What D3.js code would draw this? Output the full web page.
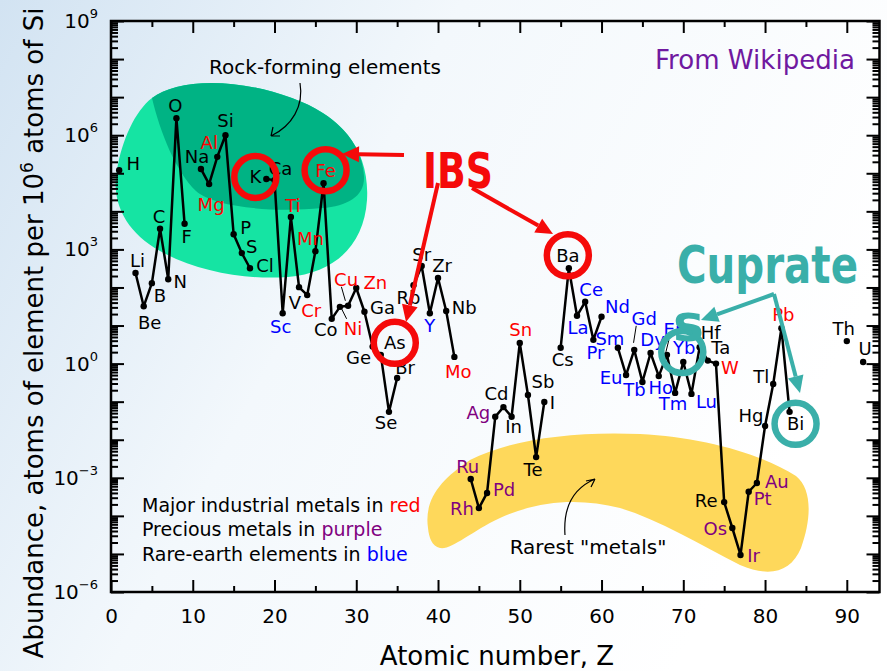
<!DOCTYPE html>
<html>
<head>
<meta charset="utf-8">
<script src="https://cdn.jsdelivr.net/npm/d3@7"></script>
<style>
body { margin: 0; }
svg text { font-family: "DejaVu Sans", sans-serif; }
</style>
</head>
<body>
<div id="chart"></div>
<script>
// values (atoms per 10^6 atoms of Si)
const symbols = ["H","Li","Be","B","C","N","O","F","Na","Mg","Al","Si","P","S","Cl",
  "K","Ca","Sc","Ti","V","Cr","Mn","Fe","Co","Ni","Cu","Zn","Ga","Ge","As","Se","Br",
  "Rb","Sr","Y","Zr","Nb","Mo","Ru","Rh","Pd","Ag","Cd","In","Sn","Sb","Te","I",
  "Cs","Ba","La","Ce","Pr","Nd","Sm","Eu","Gd","Tb","Dy","Ho","Er","Tm","Yb","Lu",
  "Hf","Ta","W","Re","Os","Ir","Pt","Au","Hg","Tl","Pb","Bi","Th","U"];
const atomicNumbers = [1,3,4,5,6,7,8,9,11,12,13,14,15,16,17,
  19,20,21,22,23,24,25,26,27,28,29,30,31,32,33,34,35,
  37,38,39,40,41,42,44,45,46,47,48,49,50,51,52,53,
  55,56,57,58,59,60,62,63,64,65,66,67,68,69,70,71,
  72,73,74,75,76,77,78,79,80,81,82,83,90,92];
const abundance = [1.2e5,240,32,130,3500,165,2.8e6,4700,1.3e5,5.2e4,2.7e5,1e6,2500,800,320,
  7.1e4,6.6e4,21,7100,102,63,900,5.5e4,15,31,33,97,23,2.8,1.7,0.054,0.42,
  115,365,21,178,24,1.5,9.3e-4,1.6e-4,4e-4,0.04,0.072,0.04,3.5,0.15,0.0035,0.098,
  2.6,320,18,42,4.2,17,2.6,0.5,2.3,0.33,1.9,0.47,1.7,0.17,1.1,0.16,
  2.7,1.2,1.0,2.3e-4,4.8e-5,9.4e-6,4.3e-4,7.3e-4,0.023,0.29,8.5,0.054,3.9,1.1];

const industrialMetals = ["Mg","Al","Ti","Cr","Mn","Fe","Ni","Cu","Zn","Mo","Sn","W","Pb"];
const preciousMetals = ["Ru","Rh","Pd","Ag","Os","Ir","Pt","Au"];
const rareEarths = ["Sc","Y","La","Ce","Pr","Nd","Sm","Eu","Gd","Tb","Dy","Ho","Er","Tm","Yb","Lu"];
const ibsElements = ["K","Fe","As","Ba"];
const cuprateElements = ["Yb","Bi"];

const xMajorTicks = [0,10,20,30,40,50,60,70,80,90];
const xMinorTicks = [5,15,25,35,45,55,65,75,85];
const yDecades = d3.range(-6, 10);
const yLabelled = [-6,-3,0,3,6,9];

// label placement (pixels from the point)
const labelOffset = {
  H:[14,-7], Li:[2,-12], Be:[6,16], B:[8,12], C:[-1,-12], N:[12,2], O:[-1,-13], F:[2,13],
  Na:[-4,-12], Mg:[2,20], Al:[-8,-14], Si:[0,-15], P:[12,-7], S:[10,-7], Cl:[15,-3],
  K:[-11,-2], Ca:[6,-12], Sc:[-2,13], Ti:[2,-11], V:[-4,15], Cr:[4,15], Mn:[-5,-13], Fe:[2,-13],
  Co:[-6,11], Ni:[13,22], Cu:[-2,-26], Zn:[19,-5], Ga:[18,-4], Ge:[-14,11], As:[14,-12], Se:[-3,11], Br:[8,-10],
  Rb:[-5,12], Sr:[0,-12], Y:[0,12], Zr:[4,-12], Nb:[18,-4], Mo:[4,15],
  Ru:[-3,-12], Rh:[-17,0], Pd:[17,-3], Ag:[-17,-4], Cd:[-7,-14], In:[2,10], Sn:[1,-13], Sb:[15,-13], Te:[-3,12], I:[8,1],
  Cs:[2,12], Ba:[-1,-13], La:[1,12], Ce:[6,-12], Pr:[2,13], Nd:[16,-10], Sm:[-8,-9], Eu:[-15,2], Gd:[10,-31],
  Tb:[-8,8], Dy:[2,-13], Ho:[2,11], Er:[6,-25], Tm:[-2,11], Yb:[1,-15], Lu:[15,8],
  Hf:[11,-15], Ta:[13,-13], W:[14,4], Re:[-18,-2], Os:[-17,1], Ir:[13,1], Pt:[14,7], Au:[20,-1],
  Hg:[-14,-10], Tl:[-12,-8], Pb:[2,-14], Bi:[6,12], Th:[-3,-13], U:[2,-14]
};
const leaders = {Cu:[-6.7,-19,-2.7,-5], Ni:[1.7,2,6.7,12], Gd:[-0.7,-7,2,-24], Er:[-1,-3,2,-15]};

const width = 887, height = 671;
const red = "#f50a0a", teal = "#3aafa9";

const svg = d3.select("#chart").append("svg")
  .attr("width", width)
  .attr("height", height);

const defs = svg.append("defs");
const grad = defs.append("linearGradient").attr("id", "bg")
  .attr("x1", 0).attr("y1", 0).attr("x2", 1).attr("y2", 0.4);
grad.append("stop").attr("offset", 0).attr("stop-color", "#d2e3f2");
grad.append("stop").attr("offset", 0.45).attr("stop-color", "#f3f8fc");
grad.append("stop").attr("offset", 1).attr("stop-color", "#ffffff");

svg.append("rect").attr("width", width).attr("height", height).attr("fill", "url(#bg)");

const x = d3.scaleLinear().domain([0, 94]).range([111, 879.5]);
const y = d3.scaleLog().domain([1e-6, 1e9]).range([592, 21]);

// shaded regions
svg.append("path")
  .attr("d", "M152,98 C175,80 232,76 292,98 C342,116 370,150 367,200 C364,246 334,273 288,277 C246,280 198,272 160,251 C124,231 111,200 117,170 C122,140 135,111 152,98 Z")
  .attr("fill", "#15e4a3");
svg.append("path")
  .attr("d", "M152,98 C175,80 232,76 292,98 C336,114 362,142 364,176 C365,196 348,206 322,208 C272,213 214,207 196,191 C176,172 160,132 152,98 Z")
  .attr("fill", "#00b384");
svg.append("path")
  .attr("d", "M428,528 C424,500 440,480 470,460 C510,440 570,431 640,434 C702,437 762,454 796,476 C813,490 811,520 801,548 C791,572 770,578 740,565 C700,545 660,520 620,508 C580,498 540,500 500,518 C470,532 452,550 440,548 C432,546 429,538 428,528 Z")
  .attr("fill", "#fed85b");

// frame and ticks
svg.append("rect")
  .attr("x", x(0)).attr("y", y(1e9))
  .attr("width", x(94) - x(0)).attr("height", y(1e-6) - y(1e9))
  .attr("fill", "none").attr("stroke", "#000").attr("stroke-width", 2.5);

function tickGroup(axis, tx, ty){
  const g = svg.append("g").attr("transform", `translate(${tx},${ty})`).call(axis);
  g.select(".domain").remove();
  g.selectAll("line").attr("stroke", "#000").attr("stroke-width", 2);
  return g;
}

const yMinor = [];
yDecades.slice(0, -1).forEach(k => { for (let m = 2; m <= 9; m++) yMinor.push(m * Math.pow(10, k)); });

const xBottom = tickGroup(d3.axisBottom(x).tickValues(xMajorTicks).tickSizeInner(-12).tickSizeOuter(0)
  .tickPadding(17).tickFormat(d3.format("d")), 0, y(1e-6));
xBottom.selectAll("text")
  .attr("font-family", "'Liberation Sans', Arial, sans-serif")
  .attr("font-size", 20).attr("fill", "#000");
tickGroup(d3.axisBottom(x).tickValues(xMinorTicks).tickSize(-6).tickFormat(() => ""), 0, y(1e-6));
tickGroup(d3.axisTop(x).tickValues(xMajorTicks).tickSize(-12).tickFormat(() => ""), 0, y(1e9));
tickGroup(d3.axisTop(x).tickValues(xMinorTicks).tickSize(-6).tickFormat(() => ""), 0, y(1e9));

const yLeft = tickGroup(d3.axisLeft(y).tickValues(yDecades.map(k => Math.pow(10, k)))
  .tickSize(-13).tickPadding(13), x(0), 0);
yLeft.selectAll("text").each(function(d){
  const e = Math.round(Math.log10(d));
  const t = d3.select(this);
  if (!yLabelled.includes(e)) { t.remove(); return; }
  t.text(null)
    .attr("font-family", "'Liberation Sans', Arial, sans-serif")
    .attr("font-size", 20).attr("fill", "#000");
  t.append("tspan").text("10");
  t.append("tspan").attr("dy", -10).attr("font-size", 13).text(e < 0 ? "\u2212" + (-e) : e);
});
tickGroup(d3.axisLeft(y).tickValues(yMinor).tickSize(-7).tickFormat(() => ""), x(0), 0);
tickGroup(d3.axisRight(y).tickValues(yDecades.map(k => Math.pow(10, k))).tickSize(-13).tickFormat(() => ""), x(94), 0);
tickGroup(d3.axisRight(y).tickValues(yMinor).tickSize(-7).tickFormat(() => ""), x(94), 0);

// axis titles
svg.append("text")
  .attr("x", 497).attr("y", 665)
  .attr("text-anchor", "middle")
  .attr("font-family", "'Liberation Sans', Arial, sans-serif")
  .attr("font-size", 26)
  .text("Atomic number, Z");

const yTitle = svg.append("text")
  .attr("transform", "translate(43,333) rotate(-90)")
  .attr("text-anchor", "middle")
  .attr("font-family", "'Liberation Sans', Arial, sans-serif")
  .attr("font-size", 26);
yTitle.append("tspan").text("Abundance, atoms of element per 10");
yTitle.append("tspan").attr("dy", -10).attr("font-size", 17).text("6");
yTitle.append("tspan").attr("dy", 10).text(" atoms of Si");

// data
const data = symbols.map((s, i) => ({symbol: s, z: atomicNumbers[i], value: abundance[i]}));

// split into runs of consecutive Z (missing elements break the line)
const runs = [];
data.forEach((d, i) => {
  if (i === 0 || d.z !== data[i - 1].z + 1) runs.push([]);
  runs[runs.length - 1].push(d);
});

const line = d3.line().x(d => x(d.z)).y(d => y(d.value));

svg.append("g").selectAll("path")
  .data(runs.filter(r => r.length > 1))
  .enter().append("path")
  .attr("d", line)
  .attr("fill", "none")
  .attr("stroke", "#000")
  .attr("stroke-width", 2.5)
  .attr("stroke-linejoin", "round");

svg.append("g").selectAll("circle")
  .data(data)
  .enter().append("circle")
  .attr("cx", d => x(d.z))
  .attr("cy", d => y(d.value))
  .attr("r", 3.2)
  .attr("fill", "#000");

function labelColor(s){
  if (industrialMetals.includes(s)) return "#ff0000";
  if (preciousMetals.includes(s)) return "#800080";
  if (rareEarths.includes(s)) return "#0000ff";
  return "#000";
}
const labelPos = d => [x(d.z) + labelOffset[d.symbol][0], y(d.value) + labelOffset[d.symbol][1]];

svg.append("g").selectAll("line")
  .data(data.filter(d => leaders[d.symbol]))
  .enter().append("line")
  .attr("x1", d => x(d.z) + leaders[d.symbol][0])
  .attr("y1", d => y(d.value) + leaders[d.symbol][1])
  .attr("x2", d => x(d.z) + leaders[d.symbol][2])
  .attr("y2", d => y(d.value) + leaders[d.symbol][3])
  .attr("stroke", "#000").attr("stroke-width", 1);

svg.append("g").selectAll("text")
  .data(data)
  .enter().append("text")
  .attr("x", d => labelPos(d)[0])
  .attr("y", d => labelPos(d)[1])
  .attr("dy", "0.36em")
  .attr("text-anchor", "middle")
  .attr("font-size", 18)
  .attr("fill", d => labelColor(d.symbol))
  .text(d => d.symbol);

// notes
svg.append("text").attr("x", 325).attr("y", 74).attr("text-anchor", "middle")
  .attr("font-size", 20).text("Rock-forming elements");
svg.append("path").attr("d", "M300,83 C304,106 292,126 271,136 M271,136 L273,127 M271,136 L280,136")
  .attr("fill", "none").attr("stroke", "#000").attr("stroke-width", 1.2);

svg.append("text").attr("x", 588).attr("y", 554).attr("text-anchor", "middle")
  .attr("font-size", 20).text("Rarest \"metals\"");
svg.append("path").attr("d", "M565,535 C563,506 574,488 595,479 M595,479 L586,481 M595,479 L591,487")
  .attr("fill", "none").attr("stroke", "#000").attr("stroke-width", 1.2);

const legendLines = [["Major industrial metals in ", "red", "#ff0000"],
  ["Precious metals in ", "purple", "#800080"],
  ["Rare-earth elements in ", "blue", "#0000ff"]];
legendLines.forEach((l, i) => {
  const t = svg.append("text").attr("x", 142).attr("y", 512 + i * 24.4).attr("font-size", 19);
  t.append("tspan").text(l[0]);
  t.append("tspan").attr("fill", l[2]).text(l[1]);
});

svg.append("text").attr("x", 655).attr("y", 69)
  .attr("font-family", "'Liberation Sans', Arial, sans-serif")
  .attr("font-size", 27).attr("fill", "#7019a0")
  .attr("textLength", 200).attr("lengthAdjust", "spacingAndGlyphs")
  .text("From Wikipedia");

// highlight rings
svg.append("g").selectAll("circle")
  .data(data.filter(d => ibsElements.includes(d.symbol) || cuprateElements.includes(d.symbol)))
  .enter().append("circle")
  .attr("cx", d => labelPos(d)[0] - (d.symbol === "Yb" ? 2 : 0))
  .attr("cy", d => labelPos(d)[1] + (d.symbol === "Yb" ? 5 : 0))
  .attr("r", 21)
  .attr("fill", "none")
  .attr("stroke", d => ibsElements.includes(d.symbol) ? red : teal)
  .attr("stroke-width", 6.5);

function arrow(x1, y1, x2, y2, color){
  const a = Math.atan2(y2 - y1, x2 - x1), L = 17, W = 8;
  const bx = x2 - L * Math.cos(a), by = y2 - L * Math.sin(a);
  svg.append("line").attr("x1", x1).attr("y1", y1).attr("x2", bx).attr("y2", by)
    .attr("stroke", color).attr("stroke-width", 4);
  svg.append("path")
    .attr("d", `M${x2},${y2} L${bx + W * Math.sin(a)},${by - W * Math.cos(a)} L${bx - W * Math.sin(a)},${by + W * Math.cos(a)} Z`)
    .attr("fill", color);
}
arrow(404, 155, 342, 154, red);
arrow(438, 183, 406, 322, red);
arrow(472, 188, 553, 234, red);

svg.append("text").attr("x", 423).attr("y", 188)
  .attr("font-family", "'Open Sans', 'Liberation Sans', sans-serif")
  .attr("font-weight", 600).attr("font-size", 50).attr("fill", red)
  .attr("textLength", 70).attr("lengthAdjust", "spacingAndGlyphs")
  .text("IBS");

svg.append("text").attr("x", 677).attr("y", 283)
  .attr("font-family", "'Open Sans', 'Liberation Sans', sans-serif")
  .attr("font-weight", 600).attr("font-size", 52).attr("fill", teal)
  .attr("textLength", 181).attr("lengthAdjust", "spacingAndGlyphs")
  .text("Cuprate");
svg.append("text").attr("x", 673).attr("y", 341)
  .attr("font-family", "'Open Sans', 'Liberation Sans', sans-serif")
  .attr("font-weight", 600).attr("font-size", 52).attr("fill", teal)
  .text("s");

arrow(774, 294, 701, 320, teal);
arrow(774, 294, 800, 393, teal);
</script>
</body>
</html>
